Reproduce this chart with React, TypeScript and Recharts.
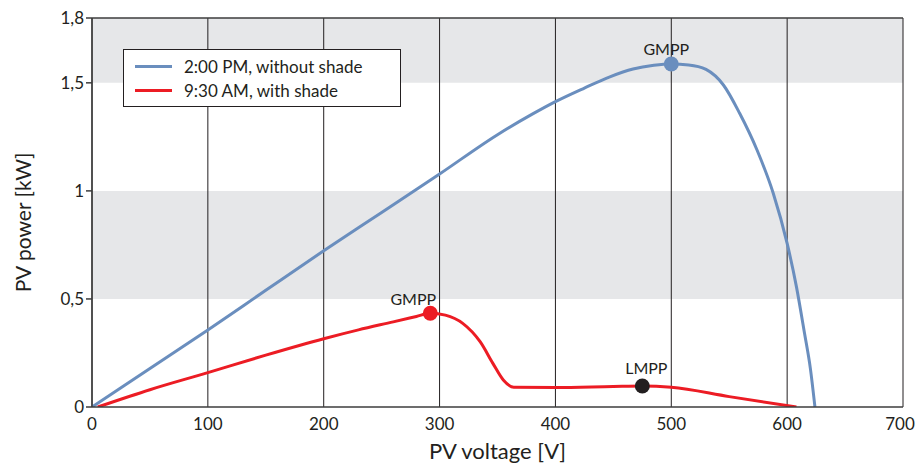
import React from 'react';
import {
    LineChart, Line, XAxis, YAxis, CartesianGrid, ReferenceArea, ReferenceLine, ReferenceDot, Legend, Label
} from 'recharts';

// axis ticks
const voltageTicks = [0, 100, 200, 300, 400, 500, 600, 700];
const powerTicks = [0, 0.5, 1, 1.5, 1.8];

// shaded bands (kW)
const bandFrom = [0.5, 1.5];
const bandTo = [1, 1.8];

// 2:00 PM, without shade
const sunVoltage = [0, 50, 100, 150, 200, 250, 300, 350, 380, 400, 425, 447, 467, 485, 500, 515, 530, 545, 559, 574, 588, 600, 608, 615, 620, 624];
const sunPower = [0, 0.178, 0.356, 0.54, 0.723, 0.9, 1.078, 1.26, 1.355, 1.413, 1.476, 1.528, 1.564, 1.581, 1.587, 1.583, 1.562, 1.49, 1.359, 1.189, 0.989, 0.757, 0.557, 0.341, 0.18, 0];

// 9:30 AM, with shade
const shadeVoltage = [5, 50, 100, 150, 200, 230, 260, 280, 292, 305, 320, 335, 346, 355, 364, 400, 450, 475, 500, 550, 608];
const shadePower = [0, 0.08, 0.159, 0.24, 0.316, 0.357, 0.394, 0.419, 0.434, 0.425, 0.387, 0.302, 0.202, 0.125, 0.091, 0.09, 0.095, 0.097, 0.091, 0.048, 0];

// marked maximum power points
const peakNames = ['GMPP', 'GMPP', 'LMPP'];
const peakVoltage = [500, 292, 475];
const peakPower = [1.587, 0.434, 0.097];

const seriesNames = ['2:00 PM, without shade', '9:30 AM, with shade'];

const BLUE = '#6a8ebe';
const RED = '#ec1c24';
const INK = '#231f20';
const FONT = 'Lato, "Open Sans", sans-serif';

const peakColors = [BLUE, RED, INK];
const peakLabelDx = [-5, -17, 4];
const peakLabelDy = [-2, -1, -5];

const sunData = sunVoltage.map((v, i) => ({ v, p: sunPower[i] }));
const shadeData = shadeVoltage.map((v, i) => ({ v, p: shadePower[i] }));

const fmtPower = (value: number) => String(value).replace('.', ',');

const peakLabel = (text: string, dx: number, dy: number) => (props: any) => {
    const vb = props.viewBox;
    if (!vb) return null;
    return (
        <text x={vb.x + vb.width / 2 + dx} y={vb.y + dy} textAnchor="middle" fontSize={16} fill={INK} fontFamily={FONT}>
            {text}
        </text>
    );
};

// last label would run off the right edge, nudge it in a bit
const VoltageTick = (props: any) => {
    const { x, y, payload } = props;
    const last = payload.value === voltageTicks[voltageTicks.length - 1];
    return (
        <text x={x + (last ? -3 : 0)} y={y + 17} textAnchor="middle" fontSize={17} fill={INK} fontFamily={FONT}>
            {payload.value}
        </text>
    );
};

const yAxisLabel = (props: any) => {
    const vb = props.viewBox;
    const x = 22;
    const y = vb.y + vb.height / 2 + 10;
    return (
        <text x={x} y={y} transform={`rotate(-90 ${x} ${y})`} textAnchor="middle" dominantBaseline="central" fontSize={21} fill={INK} fontFamily={FONT}>
            PV power [kW]
        </text>
    );
};

const LegendBox = (props: any) => {
    const items = props.payload || [];
    return (
        <div style={{
            width: 276, height: 56, border: `1.5px solid ${INK}`, background: '#fff',
            fontFamily: FONT, fontSize: 17, color: INK, boxSizing: 'content-box'
        }}>
            {items.map((item: any, i: number) => (
                <div key={i} style={{ display: 'flex', alignItems: 'center', height: 24, marginTop: i === 0 ? 4 : 0 }}>
                    <span style={{ display: 'inline-block', width: 37, height: 3, background: item.color, marginLeft: 11, marginRight: 12 }} />
                    <span>{item.value}</span>
                </div>
            ))}
        </div>
    );
};

export default function App() {
    return (
        <div style={{ position: 'absolute', left: 0, top: 0 }}>
            <style>{'body{margin:0}'}</style>
            <LineChart width={916} height={467} margin={{ top: 18, right: 13, bottom: 0, left: 0 }}>
                {bandFrom.map((from, i) => (
                    <ReferenceArea key={i} y1={from} y2={bandTo[i]} fill="#e6e7e9" fillOpacity={1} stroke="none" zIndex={-200} />
                ))}
                <CartesianGrid horizontal={false} stroke={INK} strokeWidth={1} />
                <ReferenceLine y={1.8} stroke="#3c3c3c" strokeWidth={1.5} />
                <XAxis
                    type="number"
                    dataKey="v"
                    domain={[0, 700]}
                    ticks={voltageTicks}
                    allowDataOverflow
                    height={60}
                    tickLine={false}
                    axisLine={{ stroke: '#3c3c3c', strokeWidth: 1.5 }}
                    tick={<VoltageTick />}
                    tickMargin={0}
                >
                    <Label
                        content={(props: any) => {
                            const vb = props.viewBox;
                            return (
                                <text x={vb.x + vb.width / 2} y={459} textAnchor="middle" fontSize={22} fill={INK} fontFamily={FONT}>
                                    PV voltage [V]
                                </text>
                            );
                        }}
                    />
                </XAxis>
                <YAxis
                    type="number"
                    domain={[0, 1.8]}
                    ticks={powerTicks}
                    allowDataOverflow
                    width={92}
                    tickSize={6}
                    tickMargin={2}
                    tickFormatter={fmtPower}
                    tickLine={{ stroke: '#3c3c3c', strokeWidth: 1.5 }}
                    axisLine={{ stroke: '#3c3c3c', strokeWidth: 1.5 }}
                    tick={{ fill: INK, fontSize: 17, fontFamily: FONT }}
                >
                    <Label content={yAxisLabel} />
                </YAxis>
                <Legend
                    layout="vertical"
                    align="center"
                    verticalAlign="middle"
                    content={<LegendBox />}
                    wrapperStyle={{ left: 123, top: 49, width: 'auto', height: 'auto' }}
                />
                <Line
                    data={sunData}
                    dataKey="p"
                    name={seriesNames[0]}
                    type="monotone"
                    stroke={BLUE}
                    strokeWidth={3}
                    dot={false}
                    activeDot={false}
                    isAnimationActive={false}
                />
                <Line
                    data={shadeData}
                    dataKey="p"
                    name={seriesNames[1]}
                    type="monotone"
                    stroke={RED}
                    strokeWidth={3}
                    dot={false}
                    activeDot={false}
                    isAnimationActive={false}
                />
                {peakNames.map((name, i) => (
                    <ReferenceDot
                        key={i}
                        x={peakVoltage[i]}
                        y={peakPower[i]}
                        r={7.5}
                        fill={peakColors[i]}
                        stroke="none"
                        label={{ content: peakLabel(name, peakLabelDx[i], peakLabelDy[i]) }}
                    />
                ))}
            </LineChart>
        </div>
    );
}
